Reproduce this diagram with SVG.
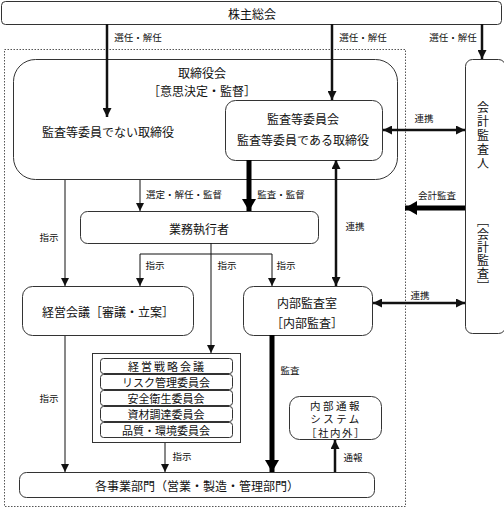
<svg xmlns="http://www.w3.org/2000/svg" width="504" height="508" viewBox="0 0 504 508">
<defs>
<style>
text{font-family:"Noto Sans CJK JP","Noto Sans CJK SC",sans-serif;fill:#111;text-anchor:middle;dominant-baseline:central}
.t{font-size:12px}
.r{font-size:11px}
.s{font-size:9.5px}
.v{font-size:12px;writing-mode:vertical-rl;dominant-baseline:auto;text-anchor:start}
.box{fill:#fff;stroke:#333;stroke-width:1}
.ln{fill:none;stroke:#111;stroke-width:1}
.ln2{fill:none;stroke:#111;stroke-width:2.5}
.ln3{fill:none;stroke:#000;stroke-width:5}
</style>
<marker id="a1" markerUnits="userSpaceOnUse" markerWidth="8" markerHeight="8" refX="8" refY="4" orient="auto-start-reverse"><path d="M0,0L8,4L0,8z" fill="#111"/></marker>
<marker id="a2" markerUnits="userSpaceOnUse" markerWidth="9" markerHeight="9" refX="9" refY="4.5" orient="auto-start-reverse"><path d="M0,0L9,4.5L0,9z" fill="#111"/></marker>
<marker id="a3" markerUnits="userSpaceOnUse" markerWidth="12" markerHeight="14" refX="12" refY="7" orient="auto-start-reverse"><path d="M0,0L12,7L0,14z" fill="#000"/></marker>
</defs>
<rect x="0" y="0" width="504" height="508" fill="#fff"/>
<rect x="4.5" y="49.5" width="401" height="457" fill="none" stroke="#555" stroke-width="1" stroke-dasharray="1.5,1.5"/>

<g id="kabunushi"><rect class="box" x="1.5" y="1.5" width="500" height="23" rx="4"/><text class="t" x="252" y="13">株主総会</text></g>

<g id="torishimariyakukai"><rect class="box" x="13.5" y="59.5" width="384" height="120" rx="22"/>
<text class="t" x="202" y="72">取締役会</text><text class="t" x="202" y="90">［意思決定・監督］</text>
<text class="t" x="108" y="131">監査等委員でない取締役</text></g>

<g id="kansatou"><rect class="box" x="225.5" y="100.5" width="157" height="60" rx="10"/>
<text class="t" x="303" y="118">監査等委員会</text><text class="t" x="303" y="139">監査等委員である取締役</text></g>

<g id="kaikei"><rect class="box" x="465.5" y="59.5" width="40" height="274" rx="7"/>
<text class="v" x="483" y="101" style="letter-spacing:2px">会計監査人</text>
<text class="v" x="483" y="215" style="letter-spacing:1px">［会計監査］</text></g>

<g id="gyoumu"><rect class="box" x="80.5" y="211.5" width="238" height="32" rx="7"/><text class="t" x="199" y="228">業務執行者</text></g>

<g id="keiei"><rect class="box" x="22.5" y="286.5" width="171" height="49" rx="10"/><text class="t" x="108" y="311">経営会議［審議・立案］</text></g>

<g id="naibu"><rect class="box" x="243.5" y="286.5" width="129" height="49" rx="10"/>
<text class="t" x="307" y="302">内部監査室</text><text class="t" x="307" y="322">［内部監査］</text></g>

<g id="iinkai"><rect class="box" x="92.5" y="353.5" width="148" height="89" rx="0"/>
<rect class="box" x="100.5" y="358.5" width="132" height="15" rx="3"/><text class="r" x="167" y="366" style="letter-spacing:2px">経営戦略会議</text>
<rect class="box" x="100.5" y="374.5" width="132" height="15" rx="3"/><text class="r" x="166" y="382">リスク管理委員会</text>
<rect class="box" x="100.5" y="390.5" width="132" height="15" rx="3"/><text class="r" x="166" y="398">安全衛生委員会</text>
<rect class="box" x="100.5" y="406.5" width="132" height="15" rx="3"/><text class="r" x="166" y="414">資材調達委員会</text>
<rect class="box" x="100.5" y="422.5" width="132" height="15" rx="3"/><text class="r" x="166" y="430">品質・環境委員会</text></g>

<g id="tsuuhou"><rect class="box" x="289.5" y="396.5" width="92" height="43" rx="10"/>
<text x="336" y="405" style="font-size:10.5px;letter-spacing:2.5px">内部通報</text><text x="336" y="418.5" style="font-size:10.5px;letter-spacing:2.5px">システム</text><text x="336" y="432" style="font-size:10.5px;letter-spacing:1.5px">［社内外］</text></g>

<g id="jigyou"><rect class="box" x="19.5" y="472.5" width="355" height="25" rx="7"/><text class="t" x="197" y="485">各事業部門（営業・製造・管理部門）</text></g>

<g id="connectors">
<path class="ln2" d="M107,24V117" marker-end="url(#a2)"/>
<path class="ln2" d="M332,24V100" marker-end="url(#a2)"/>
<path class="ln2" d="M482,24V59" marker-end="url(#a2)"/>
<path class="ln2" d="M383,130H465" marker-start="url(#a2)" marker-end="url(#a2)"/>
<path class="ln3" d="M465,208H405" marker-end="url(#a3)"/>
<path class="ln2" d="M373,303H465" marker-start="url(#a2)" marker-end="url(#a2)"/>
<path class="ln" d="M140,180V211" marker-end="url(#a1)"/>
<path class="ln3" d="M249,160V211" marker-end="url(#a3)"/>
<path class="ln2" d="M336,160V286" marker-start="url(#a2)" marker-end="url(#a2)"/>
<path class="ln" d="M65,180V286" marker-end="url(#a1)"/>
<path class="ln" d="M65,336V472" marker-end="url(#a1)"/>
<path class="ln" d="M211,243V353" marker-end="url(#a1)"/>
<path class="ln" d="M140,286V254H272V286" marker-start="url(#a1)" marker-end="url(#a1)"/>
<path class="ln" d="M165,443V472" marker-end="url(#a1)"/>
<path class="ln3" d="M272,335V472" marker-end="url(#a3)"/>
<path class="ln2" d="M335,472V440" marker-end="url(#a2)"/>
<text class="s" x="138" y="37">選任・解任</text>
<text class="s" x="363" y="37">選任・解任</text>
<text class="s" x="453" y="37">選任・解任</text>
<text class="s" x="424" y="118">連携</text>
<text class="s" x="437" y="195">会計監査</text>
<text class="s" x="420" y="295">連携</text>
<text class="s" x="184" y="194">選定・解任・監督</text>
<text class="s" x="281" y="194">監査・監督</text>
<text class="s" x="355" y="226">連携</text>
<text class="s" x="49" y="237">指示</text>
<text class="s" x="155" y="265">指示</text>
<text class="s" x="227" y="265">指示</text>
<text class="s" x="286" y="265">指示</text>
<text class="s" x="49" y="398">指示</text>
<text class="s" x="182" y="456">指示</text>
<text class="s" x="290" y="370">監査</text>
<text class="s" x="353" y="457">通報</text>
</g>
</svg>
